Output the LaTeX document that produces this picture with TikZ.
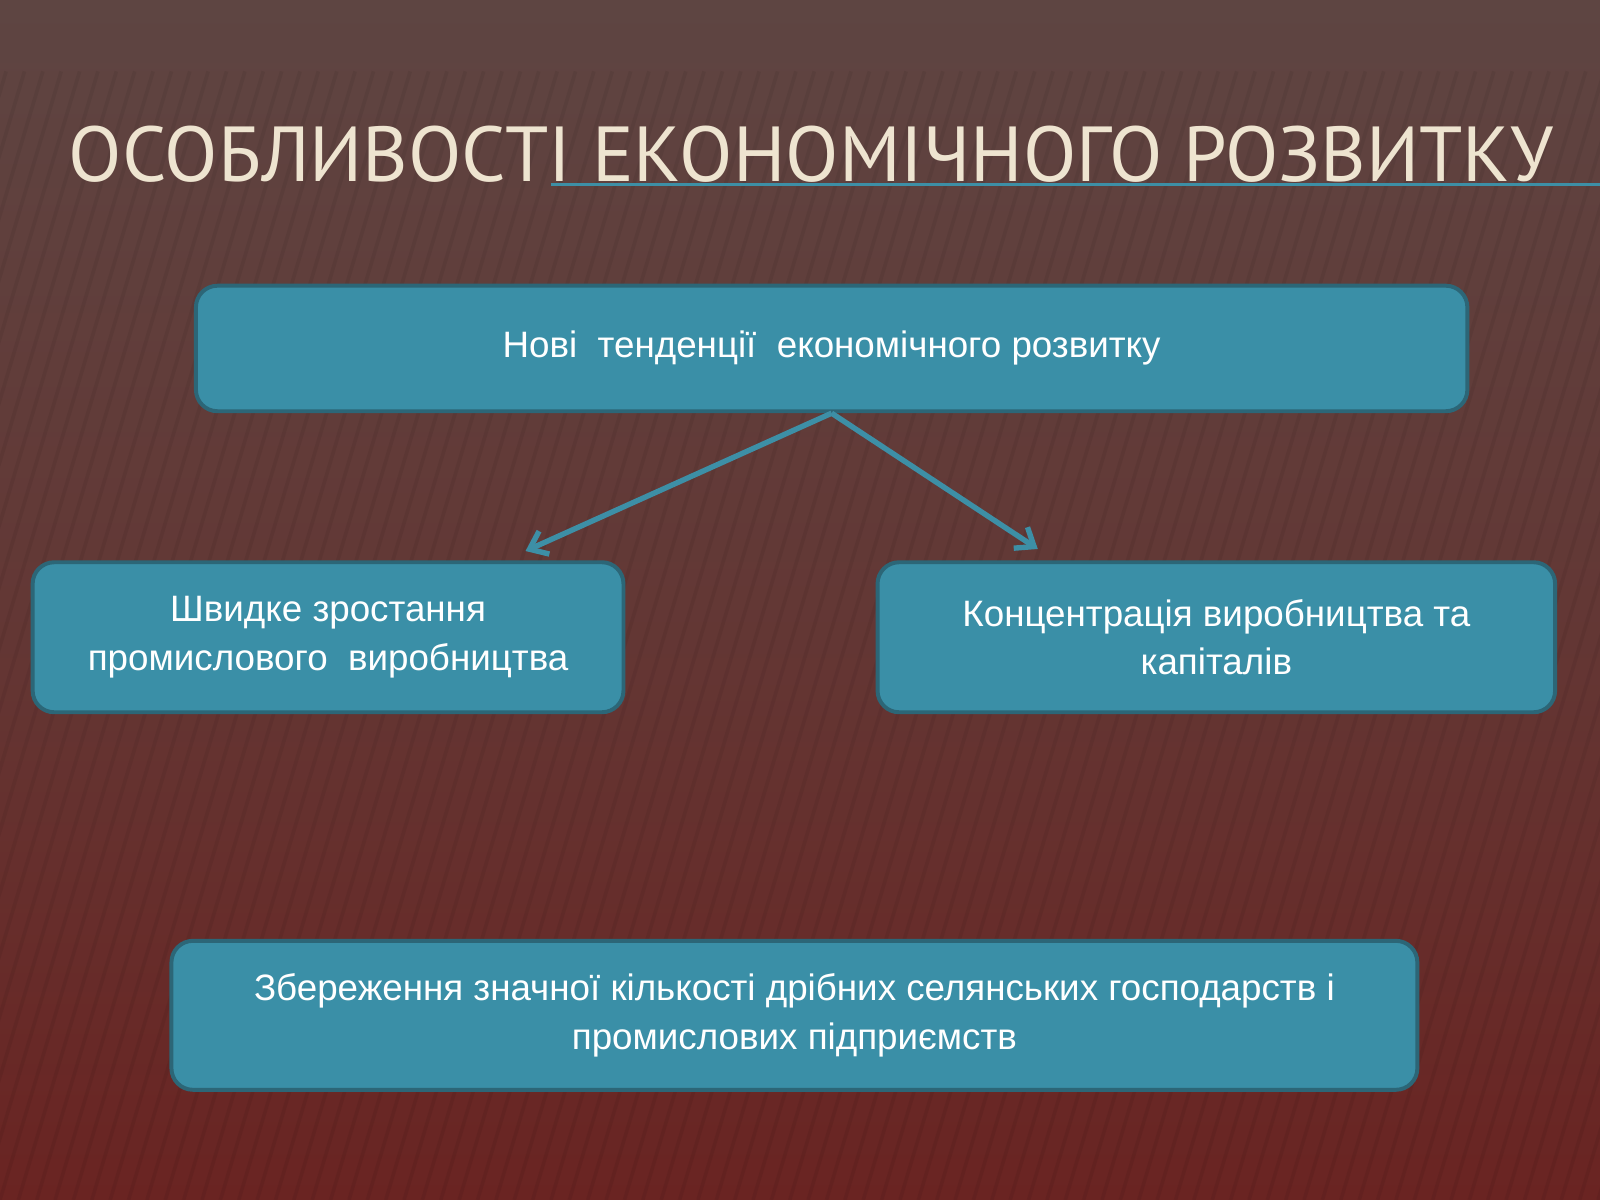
\documentclass[tikz,border=0pt]{standalone}
\usepackage{fontspec}
\setmainfont{Liberation Sans}
\newfontfamily\titlefont{PT Sans}
\usetikzlibrary{arrows.meta}
\definecolor{bgtop}{HTML}{5E4542}
\definecolor{bgbot}{HTML}{6A2422}
\definecolor{boxfill}{HTML}{3A8FA7}
\definecolor{boxline}{HTML}{2C6677}
\definecolor{titlecol}{HTML}{EEE4D0}
\definecolor{linecol}{HTML}{3D8FA6}
\tikzset{
 infobox/.style={draw=boxline, line width=2.2pt, fill=boxfill, rounded corners=12pt,
   text=white, font=\fontsize{20.5}{27}\selectfont, align=center, inner sep=0pt},
 conn/.style={draw=linecol, line width=3pt, -{Straight Barb[length=9pt,width=14pt]}}
}
\begin{document}
\begin{tikzpicture}[x=0.02cm,y=-0.02cm]
\useasboundingbox (0,0) rectangle (1568,1176);
\shade[top color=bgtop, bottom color=bgbot, middle color=bgtop!60!bgbot] (0,0) rectangle (1568,1176);
\foreach \i in {-60,...,90}{
  \draw[black, opacity=0.06, line width=2pt] (\i*18,1176) -- (\i*18+330,70);
}
\fill[bgtop, opacity=0.7] (0,0) rectangle (1568,60);
\draw[linecol, line width=1.5pt] (540,181) -- (1568,181);
\node[text=titlecol, font=\titlefont\fontsize{43.5}{50}\selectfont, anchor=base] (title) at (795,178) {ОСОБЛИВОСТІ ЕКОНОМІЧНОГО РОЗВИТКУ};
\node[infobox, minimum width=1246*0.02cm, minimum height=123*0.02cm] (top) at (815,341.5) {Нові\ \ тенденції\ \ економічного розвитку};
\node[infobox, minimum width=579*0.02cm, minimum height=147*0.02cm] (left) at (321.5,624.5) {Швидке зростання\\промислового\ \ виробництва};
\node[infobox, minimum width=664*0.02cm, minimum height=147*0.02cm] (right) at (1192,624.5) {Концентрація виробництва та\\капіталів};
\node[infobox, minimum width=1221*0.02cm, minimum height=146*0.02cm] (bottom) at (778.5,995) {Збереження значної кількості дрібних селянських господарств і\\промислових підприємств};
\coordinate (la) at (515,540);
\coordinate (ra) at (1017,538);
\draw[conn] (top.south) -- (la);
\draw[conn] (top.south) -- (ra);
\end{tikzpicture}
\end{document}
